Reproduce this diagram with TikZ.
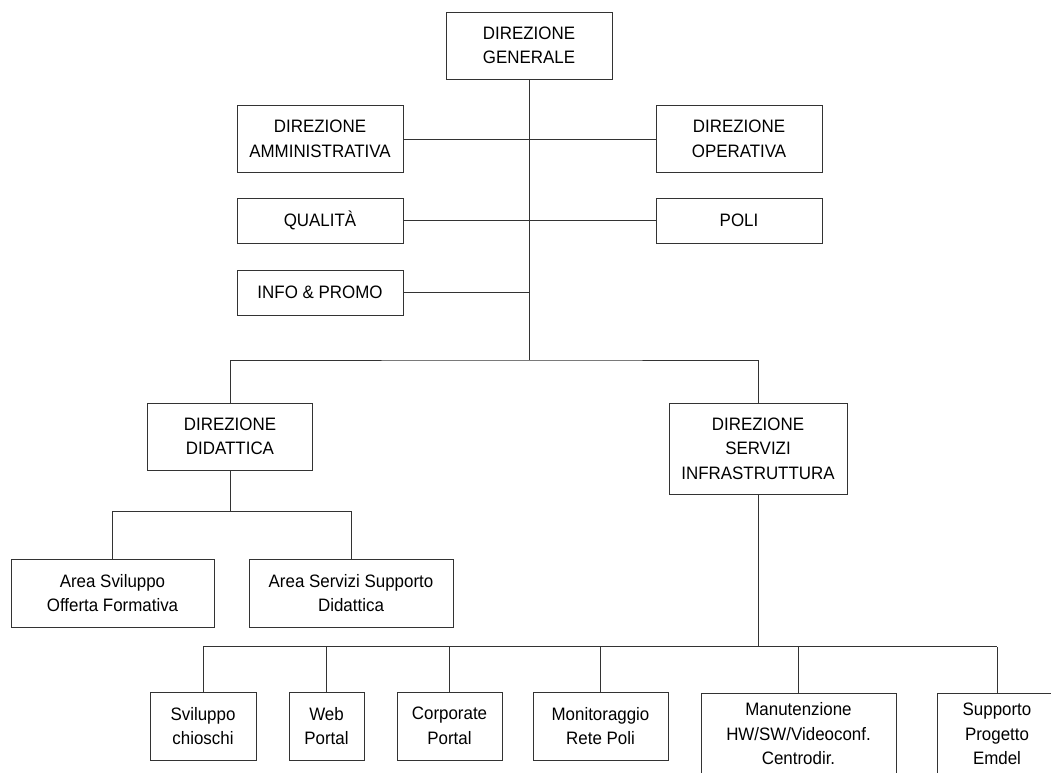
\documentclass[tikz,border=0pt]{standalone}
\usepackage{fontspec}
\setmainfont{Liberation Sans}[FakeStretch=0.94]
\tikzset{
  box/.style 2 args={draw=black!80, line width=0.8pt, minimum width=#1pt,
    minimum height=#2pt, inner sep=0pt, align=center,
    font=\fontsize{18}{24.5}\selectfont},
  link/.style={draw=black!80, line width=0.8pt}
}
\begin{document}
\begin{tikzpicture}[x=1pt,y=-1pt]
      \useasboundingbox (0,0) rectangle (1051,772);
      \clip (0,0) rectangle (1051,772);

      % BOXES
      \node[box={166}{67}] (gen)  at (529,45.5)  {DIREZIONE\\GENERALE};
      \node[box={166}{67}] (amm)  at (320,139)   {DIREZIONE\\AMMINISTRATIVA};
      \node[box={166}{67}] (oper) at (739,139)   {DIREZIONE\\OPERATIVA};
      \node[box={166}{45}] (qual) at (320,220.5) {QUALIT\`A};
      \node[box={166}{45}] (poli) at (739,220.5) {POLI};
      \node[box={166}{45}] (info) at (320,292.5) {INFO \& PROMO};

      \node[box={165}{67}] (did)  at (230,436.5) {DIREZIONE\\DIDATTICA};
      \node[box={178}{91}] (inf)  at (758,448.5) {DIREZIONE\\SERVIZI\\INFRASTRUTTURA};

      \node[box={203}{68}] (asof) at (112.5,593) {Area Sviluppo\\Offerta Formativa};
      \node[box={204}{68}] (asss) at (351,593)   {Area Servizi Supporto\\Didattica};

      \node[box={106}{68}] (svc)  at (203,726)   {Sviluppo\\chioschi};
      \node[box={75}{68}]  (web)  at (326.5,726) {Web\\Portal};
      \node[box={105}{68}] (corp) at (449.5,726) {Corporate\\Portal};
      \node[box={135}{68}] (mon)  at (600.5,726) {Monitoraggio\\Rete Poli};
      \node[box={195}{82}] (man)  at (798.5,734) {Manutenzione\\HW/SW/Videoconf.\\Centrodir.};
      \node[box={120}{82}] (sup)  at (997,734)   {Supporto\\Progetto\\Emdel};

      % BUS POINTS
      \coordinate (bus)    at (529,360);
      \coordinate (didbus) at (230,511);
      \coordinate (infbus) at (758,646.5);

      % LINES
      \draw[link] (gen.south) -- (bus);
      \draw[link] (amm.east) -- (oper.west);
      \draw[link] (qual.east) -- (poli.west);
      \draw[link] (info.east) -- (info.east -| gen.south);
      \draw[link] (did.north) |- (bus) -| (inf.north);

      \draw[link] (did.south) -- (didbus);
      \draw[link] (asof.north) |- (didbus) -| (asss.north);

      \draw[link] (inf.south) -- (infbus);
      \draw[link] (svc.north |- infbus) -- (sup.north |- infbus);
      \foreach \n in {svc,web,corp,mon,man,sup}
        \draw[link] (\n.north) -- (\n.north |- infbus);

\end{tikzpicture}
\end{document}
